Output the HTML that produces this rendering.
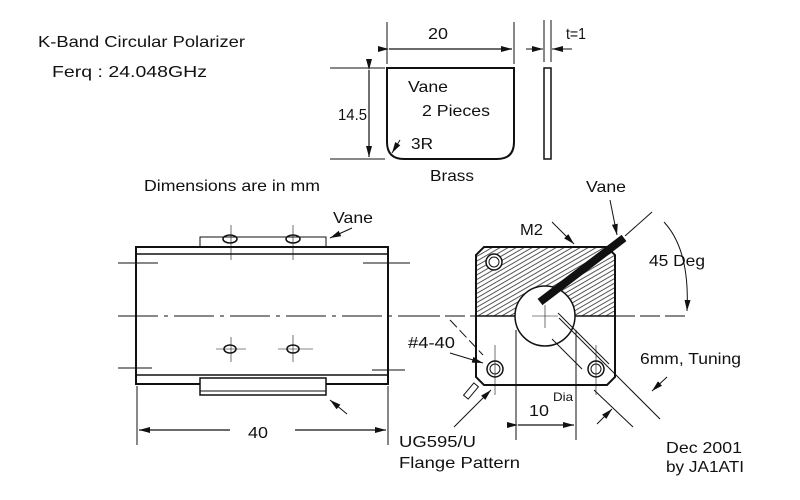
<!DOCTYPE html>
<html><head><style>
html,body{margin:0;padding:0;background:#fff;}
svg{display:block;font-family:"Liberation Sans",sans-serif;}
text{fill:#111;}
</style></head><body>
<svg width="800" height="500" viewBox="0 0 800 500" xmlns="http://www.w3.org/2000/svg">
<defs>
<marker id="a" markerWidth="11" markerHeight="6" refX="11" refY="3" orient="auto" markerUnits="userSpaceOnUse"><path d="M0,0 L11,3 L0,6 z" fill="#111"/></marker>
<pattern id="h" width="4" height="4" patternUnits="userSpaceOnUse" patternTransform="rotate(60)"><line x1="0" y1="0" x2="0" y2="4" stroke="#222" stroke-width="1.8"/></pattern>
</defs>
<rect width="800" height="500" fill="#fff"/>
<g font-size="16">
<text x="38" y="47" textLength="207" lengthAdjust="spacingAndGlyphs">K-Band Circular Polarizer</text>
<text x="52" y="77" textLength="155" lengthAdjust="spacingAndGlyphs">Ferq : 24.048GHz</text>
<text x="144" y="191" textLength="176" lengthAdjust="spacingAndGlyphs">Dimensions are in mm</text>
</g>
<g stroke="#111" fill="none" stroke-width="1">
<path d="M387,68 H514 V142 Q514,159 497,159 H404 Q387,159 387,142 Z" stroke-width="2"/>
<line x1="387" y1="22" x2="387" y2="64"/><line x1="514" y1="22" x2="514" y2="64"/>
<line x1="389" y1="49" x2="512" y2="49" marker-start="url(#a)" marker-end="url(#a)" stroke-width="1.2"/>
<line x1="330" y1="68" x2="385" y2="68"/><line x1="330" y1="159" x2="385" y2="159"/>
<line x1="369" y1="70" x2="369" y2="157" marker-start="url(#a)" marker-end="url(#a)" stroke-width="1.2"/>
<line x1="400" y1="140" x2="392" y2="153" marker-end="url(#a)"/>
<rect x="544" y="68" width="7" height="91" stroke-width="1.5"/>
<line x1="544" y1="20" x2="544" y2="62"/><line x1="551" y1="20" x2="551" y2="62"/>
<line x1="526" y1="49" x2="543" y2="49" marker-end="url(#a)"/><line x1="572" y1="49" x2="552" y2="49" marker-end="url(#a)"/>
<rect x="136" y="247" width="252" height="137" stroke-width="2"/>
<line x1="136" y1="254" x2="388" y2="254" stroke-width="1.5"/>
<line x1="136" y1="375" x2="388" y2="375" stroke-width="1.5"/>
<rect x="200" y="237" width="126" height="10"/>
<rect x="200" y="378" width="126" height="17" fill="#fff" stroke-width="1.5"/>
<line x1="200" y1="391" x2="326" y2="391"/>
<line x1="118" y1="316" x2="420" y2="316" stroke-dasharray="40,6,4,6"/>
<line x1="118" y1="263" x2="158" y2="263"/><line x1="363" y1="263" x2="410" y2="263"/>
<line x1="118" y1="368" x2="152" y2="368"/><line x1="372" y1="370" x2="405" y2="370"/>
<line x1="231" y1="225" x2="231" y2="260" stroke-width="0.6"/><line x1="293" y1="225" x2="293" y2="260" stroke-width="0.6"/>
<line x1="216" y1="349" x2="246" y2="349" stroke-width="0.6"/><line x1="231" y1="337" x2="231" y2="362" stroke-width="0.6"/>
<line x1="278" y1="349" x2="313" y2="349" stroke-width="0.6"/><line x1="293" y1="335" x2="293" y2="362" stroke-width="0.6"/>
<ellipse cx="230" cy="239" rx="7" ry="4" stroke-width="1.5"/><ellipse cx="293" cy="239" rx="7" ry="4" stroke-width="1.5"/>
<ellipse cx="230" cy="349" rx="6" ry="4" stroke-width="1.5"/><ellipse cx="293" cy="349" rx="6" ry="4" stroke-width="1.5"/>
<line x1="137" y1="386" x2="137" y2="445"/><line x1="388" y1="386" x2="388" y2="445"/>
<line x1="230" y1="430" x2="139" y2="430" marker-end="url(#a)" stroke-width="1.2"/>
<line x1="295" y1="430" x2="386" y2="430" marker-end="url(#a)" stroke-width="1.2"/>
<line x1="352" y1="228" x2="330" y2="238" marker-end="url(#a)"/>
<line x1="347" y1="414" x2="330" y2="400" marker-end="url(#a)"/>
<path d="M484,247 H607 L615,255 V316 H476 V255 Z" fill="url(#h)" stroke="none" opacity="0.85"/>
<path d="M484,247 H607 L615,255 V377 L607,385 H484 L476,377 V255 Z" stroke-width="2"/>
<line x1="476" y1="316" x2="615" y2="316" stroke-width="1.5"/>
<circle cx="545" cy="316" r="30" fill="#fff" stroke-width="1.5"/>
<line x1="532" y1="316" x2="558" y2="316" stroke-width="0.6"/><line x1="545" y1="305" x2="545" y2="328" stroke-width="0.6"/>
<line x1="615" y1="316" x2="690" y2="316" stroke-dasharray="20,5"/>
<line x1="420" y1="316" x2="476" y2="316" stroke-dasharray="20,5"/>
<circle cx="494" cy="262" r="8" fill="#fff" stroke-width="1.5"/><circle cx="494" cy="262" r="5"/>
<circle cx="495" cy="369" r="8" stroke-width="1.5"/><circle cx="495" cy="369" r="5"/>
<circle cx="596" cy="369" r="8" stroke-width="1.5"/><circle cx="596" cy="369" r="5"/>
<line x1="495" y1="345" x2="495" y2="395" stroke-width="0.6"/>
<line x1="596" y1="345" x2="596" y2="395" stroke-width="0.6"/>
<line x1="516" y1="330" x2="516" y2="440"/><line x1="576" y1="330" x2="576" y2="440"/>
<line x1="518" y1="425" x2="574" y2="425" marker-start="url(#a)" marker-end="url(#a)" stroke-width="1.2"/>
<line x1="559" y1="318" x2="660" y2="419"/><line x1="552" y1="339" x2="582" y2="369"/>
<line x1="594" y1="390" x2="633" y2="427"/>
<line x1="558" y1="313" x2="609" y2="364"/>
<line x1="540" y1="302" x2="624" y2="238" stroke-width="8"/>
<line x1="625" y1="236" x2="652" y2="212"/>
<path d="M664,222 Q690,250 687,311" marker-end="url(#a)"/>
<line x1="667" y1="377" x2="652" y2="391" marker-end="url(#a)"/>
<line x1="597" y1="424" x2="612" y2="409" marker-end="url(#a)"/>
<line x1="450" y1="320" x2="483" y2="355" stroke-dasharray="10,4"/>
<line x1="450" y1="353" x2="483" y2="363" marker-end="url(#a)"/>
<line x1="552" y1="222" x2="574" y2="244" marker-end="url(#a)"/>
<line x1="610" y1="200" x2="617" y2="235" marker-end="url(#a)"/>
<rect x="468" y="383" width="6" height="16" transform="rotate(40 471 391)"/>
<line x1="454" y1="427" x2="491" y2="390" marker-end="url(#a)"/>
</g>
<g font-size="16">
<text x="428" y="39" textLength="20" lengthAdjust="spacingAndGlyphs">20</text>
<text x="566" y="39" textLength="20" lengthAdjust="spacingAndGlyphs">t=1</text>
<text x="338" y="120" textLength="29" lengthAdjust="spacingAndGlyphs">14.5</text>
<text x="408" y="92" textLength="40" lengthAdjust="spacingAndGlyphs">Vane</text>
<text x="422" y="116" textLength="68" lengthAdjust="spacingAndGlyphs">2 Pieces</text>
<text x="411" y="149" textLength="22" lengthAdjust="spacingAndGlyphs">3R</text>
<text x="430" y="181" textLength="44" lengthAdjust="spacingAndGlyphs">Brass</text>
<text x="333" y="223" textLength="40" lengthAdjust="spacingAndGlyphs">Vane</text>
<text x="586" y="192" textLength="40" lengthAdjust="spacingAndGlyphs">Vane</text>
<text x="520" y="235" textLength="23" lengthAdjust="spacingAndGlyphs">M2</text>
<text x="649" y="266" textLength="56" lengthAdjust="spacingAndGlyphs">45 Deg</text>
<text x="408" y="348" textLength="47" lengthAdjust="spacingAndGlyphs">#4-40</text>
<text x="640" y="364" textLength="101" lengthAdjust="spacingAndGlyphs">6mm, Tuning</text>
<text x="529" y="416" textLength="20" lengthAdjust="spacingAndGlyphs">10</text><text x="553" y="401" font-size="12" textLength="20" lengthAdjust="spacingAndGlyphs">Dia</text>
<text x="248" y="438" textLength="20" lengthAdjust="spacingAndGlyphs">40</text>
<text x="399" y="447" textLength="77" lengthAdjust="spacingAndGlyphs">UG595/U</text>
<text x="399" y="468" textLength="121" lengthAdjust="spacingAndGlyphs">Flange Pattern</text>
<text x="666" y="453" textLength="76" lengthAdjust="spacingAndGlyphs">Dec 2001</text>
<text x="666" y="472" textLength="78" lengthAdjust="spacingAndGlyphs">by JA1ATI</text>
</g>
</svg>
</body></html>
